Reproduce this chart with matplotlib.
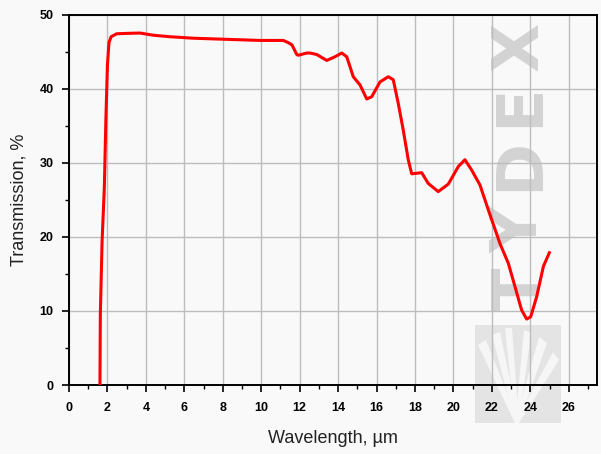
import matplotlib
matplotlib.use("Agg")
import matplotlib.pyplot as plt
from matplotlib.ticker import MultipleLocator
from matplotlib.patches import Rectangle, Polygon

# --- data ---
wavelength = [1.61, 1.63, 1.72, 1.84, 1.92, 2.00, 2.08, 2.19, 2.48, 3.00, 3.69, 4.39,
              5.25, 6.47, 8.20, 9.94, 11.15, 11.41, 11.60, 11.85, 11.93, 12.37, 12.54,
              12.89, 13.41, 13.84, 14.19, 14.45, 14.79, 15.14, 15.49, 15.75, 16.18,
              16.61, 16.87, 17.13, 17.39, 17.65, 17.83, 18.35, 18.69, 19.21, 19.73,
              20.26, 20.60, 20.95, 21.38, 21.82, 22.42, 22.86, 23.20, 23.55, 23.81,
              24.02, 24.33, 24.68, 24.99]
transmission = [0.0, 9.5, 19.3, 26.8, 36.0, 43.2, 46.2, 47.0, 47.4, 47.45, 47.5, 47.2,
                47.0, 46.8, 46.65, 46.5, 46.5, 46.2, 45.9, 44.6, 44.5, 44.8, 44.8,
                44.6, 43.8, 44.3, 44.8, 44.3, 41.6, 40.5, 38.6, 38.9, 40.9,
                41.6, 41.2, 38.0, 34.4, 30.4, 28.5, 28.65, 27.2, 26.1, 27.1,
                29.5, 30.4, 29.0, 27.0, 23.6, 19.1, 16.4, 13.3, 10.1, 8.9,
                9.2, 11.9, 16.0, 17.85]
x_ticks = list(range(0, 27, 2))
y_ticks = list(range(0, 51, 10))
watermark = "TYDEX"

bg = "#f9f9f9"
W, H = 601, 454
fig = plt.figure(figsize=(6.01, 4.54), dpi=100, facecolor=bg)
ax = fig.add_axes([69/W, 1-385/H, 528/W, 370.5/H], facecolor="none")

def fx(px):
    return px / W

def fy(py):
    return 1 - py / H

# watermark logo (behind everything)
logo = Rectangle((fx(475), fy(423)), 86/W, 98/H, transform=fig.transFigure,
                 facecolor="#e4e4e4", edgecolor="none", zorder=-2)
fig.patches.append(logo)
apex = (517, 423)
rays = [(478, 345, 486, 340), (492, 335, 500, 332), (505, 328, 512, 328),
        (524, 330, 531, 333), (539, 337, 547, 343), (553, 352, 559, 360)]
for x1, y1, x2, y2 in rays:
    poly = Polygon([(fx(apex[0] - 2), fy(apex[1])), (fx(x1), fy(y1)), (fx(x2), fy(y2)),
                    (fx(apex[0] + 2), fy(apex[1]))], closed=True,
                   transform=fig.transFigure, facecolor="#f6f6f6", edgecolor="none",
                   zorder=-1.5)
    fig.patches.append(poly)

# watermark letters (rotated, reading bottom to top)
centers_y = [289, 230, 164, 105, 46]  # pixel rows for T, Y, D, E, X
for ch, py in zip(watermark, centers_y):
    fig.text(fx(520), fy(py), ch, rotation=90, ha="center", va="center",
             fontsize=46, fontweight="bold", fontfamily="DejaVu Sans",
             color="#d3d3d3", zorder=-1)

ax.set_xlim(0, 27.47)
ax.set_ylim(0, 50)
ax.set_xticks(x_ticks)
ax.set_yticks(y_ticks)
ax.xaxis.set_minor_locator(MultipleLocator(1))
ax.yaxis.set_minor_locator(MultipleLocator(5))
ax.tick_params(which="major", direction="out", length=5, width=1.2, colors="black",
               labelsize=9)
ax.tick_params(axis="x", which="major", pad=7)
ax.tick_params(axis="y", which="major", pad=6)
ax.tick_params(which="minor", direction="out", length=3, width=1.0)
for lbl in ax.get_xticklabels() + ax.get_yticklabels():
    lbl.set_fontfamily("Liberation Sans")
    lbl.set_fontweight("bold")
for s in ax.spines.values():
    s.set_linewidth(1.4)
    s.set_color("black")

ax.set_axisbelow(True)
ax.grid(True, which="major", color="#bdbdbd", linewidth=1.0, zorder=1)

ax.plot(wavelength, transmission, color="#ff0000", linewidth=2.2, zorder=3,
        solid_joinstyle="round")

ax.set_xlabel("Wavelength, µm", fontsize=13, fontfamily="Liberation Sans", labelpad=12,
              color="#222222")
ax.set_ylabel("Transmission, %", fontsize=13, fontfamily="Liberation Sans", labelpad=9,
              color="#222222")

fig.savefig("out.png", dpi=100, facecolor=bg)
